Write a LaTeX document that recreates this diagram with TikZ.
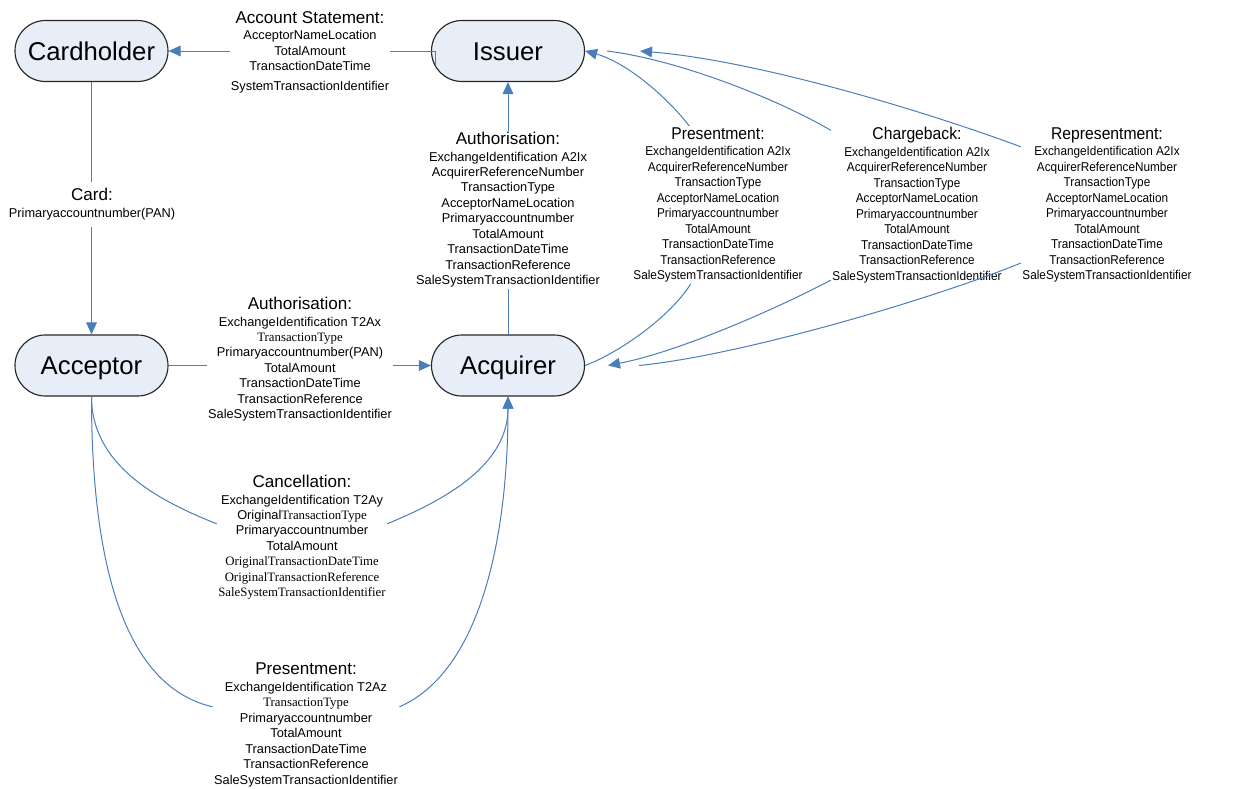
\documentclass[tikz,border=0pt]{standalone}
\usepackage{fontspec}
\setmainfont{Liberation Sans}
\newfontfamily\tnr{Liberation Serif}
\newfontfamily\narrowsans[FakeStretch=0.92]{Liberation Sans}
\usetikzlibrary{shapes,arrows.meta,calc}
\definecolor{linkblue}{RGB}{74,126,187}
\definecolor{partyfill}{RGB}{232,238,247}
\tikzstyle{party} = [rectangle, draw=black!85, line width=0.85pt, fill=partyfill, rounded corners=22.8pt, minimum width=114.75pt, minimum height=45.75pt, inner sep=0pt, text height=13.8pt, text depth=0pt, font=\fontsize{19.3}{22}\selectfont]
\tikzstyle{msg} = [align=center, inner sep=1pt, anchor=north, font=\fontsize{9.6}{11.6}\selectfont]
\tikzstyle{msgr} = [msg, font=\narrowsans\fontsize{9.6}{11.6}\selectfont]
\tikzstyle{line} = [draw, linkblue, line width=0.75pt]
\tikzstyle{flow} = [line, -{Triangle[length=9pt,width=8pt]}]
\newcommand{\msgtitle}[1]{{\fontsize{12.8}{14}\selectfont #1}\\[0.8pt]}
\newcommand{\issuerfields}{ExchangeIdentification A2Ix\\AcquirerReferenceNumber\\TransactionType\\AcceptorNameLocation\\Primaryaccountnumber\\TotalAmount\\TransactionDateTime\\TransactionReference\\SaleSystemTransactionIdentifier}

\begin{document}
\begin{tikzpicture}[x=0.75pt,y=0.75pt]
\useasboundingbox (0,0) rectangle (1258,-789);
\node [party] (cardholder) at (91.5,-51) {Cardholder};
\node [party] (issuer) at (508,-51) {Issuer};
\node [party] (acceptor) at (91.5,-365.5) {Acceptor};
\node [party] (acquirer) at (508,-365.5) {Acquirer};
\coordinate (stmt-start) at ($(issuer.west)+(5,-14)$);
\coordinate (cb-start) at ($(issuer.east)+(22,0)$);
\coordinate (cb-tip) at ($(acquirer.east)+(23,0)$);
\coordinate (rep-start) at ($(acquirer.east)+(54,0)$);
\coordinate (rep-tip) at ($(issuer.east)+(55,0)$);
\path [flow] (stmt-start) |- (cardholder.east);
\path [flow] (cardholder) -- (acceptor);
\path [flow] (acceptor) -- (acquirer);
\path [flow] (acquirer) -- (issuer);
\node [msg, fill=white] (stmt) at (310,-9.5) {\msgtitle{Account Statement:}AcceptorNameLocation\\TotalAmount\\TransactionDateTime\\[3.4pt]SystemTransactionIdentifier};
\node [msg, fill=white, inner ysep=5pt] (card) at (92,-181.5) {\msgtitle{Card:}Primaryaccountnumber(PAN)};
\node [msg, fill=white] (auth-iss) at (508,-130.5) {\msgtitle{Authorisation:}\issuerfields};
\node [msg, fill=white] (auth-acq) at (300,-295.5) {\msgtitle{Authorisation:}ExchangeIdentification T2Ax\\{\tnr TransactionType}\\Primaryaccountnumber(PAN)\\TotalAmount\\TransactionDateTime\\TransactionReference\\SaleSystemTransactionIdentifier};
\node [msg] (cancel) at (302,-473.5) {\msgtitle{Cancellation:}ExchangeIdentification T2Ay\\Original{\tnr TransactionType}\\Primaryaccountnumber\\TotalAmount\\{\tnr OriginalTransactionDateTime}\\{\tnr OriginalTransactionReference}\\{\tnr SaleSystemTransactionIdentifier}};
\node [msg] (pres-acq) at (306,-661.5) {\msgtitle{Presentment:}ExchangeIdentification T2Az\\{\tnr TransactionType}\\Primaryaccountnumber\\TotalAmount\\TransactionDateTime\\TransactionReference\\SaleSystemTransactionIdentifier};
\node [msgr] (pres-iss) at (718,-126) {\msgtitle{Presentment:}\issuerfields};
\node [msgr] (chargeback) at (917,-126) {\msgtitle{Chargeback:}\issuerfields};
\node [msgr] (repres) at (1107,-126) {\msgtitle{Representment:}\issuerfields};
\path [line] (acceptor.south) .. controls +(0,-74) and +(-47,19) .. (cancel.171);
\path [flow] (cancel.9) .. controls +(45,19) and +(0,-74) .. (acquirer.south);
\path [line] (acceptor.south) .. controls +(0,-204) and +(-73,17) .. (pres-acq.169);
\path [flow] (pres-acq.11) .. controls +(80,35) and +(0,-144) .. (acquirer.south);
\path [line] (acquirer.east) .. controls +(35.5,13.5) and +(-21,-33) .. (pres-iss.251);
\path [flow] (pres-iss.110) .. controls +(-23,30) and +(40.5,-11) .. (issuer.east);
\path [line] (cb-start) .. controls +(73,-9) and +(-51,30) .. (chargeback.139);
\path [flow] (chargeback.221) .. controls +(-51,-27) and +(72,14) .. (cb-tip);
\path [flow] (repres.146) .. controls +(-91,34) and +(120,-10) .. (rep-tip);
\path [line] (rep-start) .. controls +(101,10) and +(-91,-37) .. (repres.214);
\end{tikzpicture}
\end{document}
